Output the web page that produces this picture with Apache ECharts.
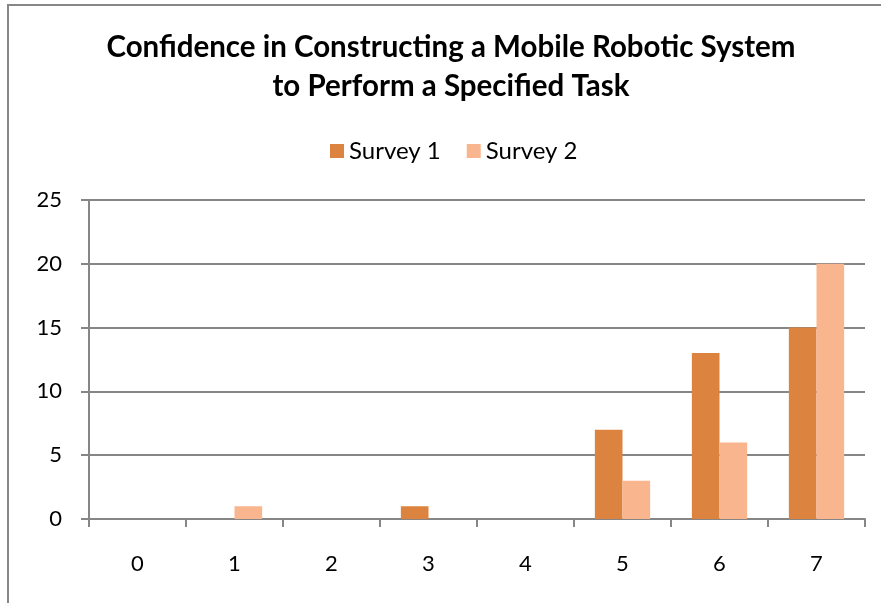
<!DOCTYPE html>
<html>
<head>
<meta charset="utf-8">
<script src="https://cdn.jsdelivr.net/npm/echarts@6/dist/echarts.min.js"></script>
<style>
  html, body { margin: 0; padding: 0; background: #fff; }
  #chart { position: absolute; left: 0; top: 0; width: 881px; height: 603px; }
  #frame { position: absolute; left: 7px; top: 4px; width: 900px; height: 640px;
           border: 2px solid #878787; pointer-events: none; }
</style>
</head>
<body>
<div id="chart"></div>
<div id="frame"></div>
<script>
const categories = ['0', '1', '2', '3', '4', '5', '6', '7']
const survey1 = [0, 0, 0, 1, 0, 7, 13, 15]
const survey2 = [0, 1, 0, 0, 0, 3, 6, 20]

const font = 'Lato, "Open Sans", sans-serif'
const chart = echarts.init(document.getElementById('chart'), null, { renderer: 'canvas' })

chart.setOption({
  backgroundColor: '#fff',
  animation: false,
  title: {
    text: 'Confidence in Constructing a Mobile Robotic System\nto Perform a Specified Task',
    left: 446,
    top: 23,
    textAlign: 'center',
    textStyle: {
      fontFamily: font,
      fontWeight: 'bold',
      fontSize: 29.5,
      lineHeight: 39,
      color: '#000'
    }
  },
  legend: {
    data: ['Survey 1', 'Survey 2'],
    top: 134,
    left: 325,
    itemWidth: 14,
    itemHeight: 14,
    itemGap: 26,
    icon: 'rect',
    textStyle: { fontFamily: font, fontSize: 24, color: '#000' }
  },
  grid: {
    left: 89,
    right: 16,
    top: 200,
    bottom: 84
  },
  xAxis: {
    type: 'category',
    data: categories,
    axisLine: { lineStyle: { color: '#868686', width: 2 } },
    axisTick: { show: true, length: 8, lineStyle: { color: '#868686', width: 2 } },
    axisLabel: { fontFamily: font, fontSize: 22, color: '#000', margin: 34 }
  },
  yAxis: {
    type: 'value',
    min: 0,
    max: 25,
    interval: 5,
    axisLine: { show: true, lineStyle: { color: '#868686', width: 2 } },
    axisTick: { show: true, length: 8, lineStyle: { color: '#868686', width: 2 } },
    axisLabel: { fontFamily: font, fontSize: 22, color: '#000', margin: 27 },
    splitLine: { show: true, lineStyle: { color: '#868686', width: 2 } }
  },
  series: [
    {
      name: 'Survey 1',
      type: 'bar',
      data: survey1,
      barGap: '0%',
      barCategoryGap: '43%',
      itemStyle: { color: '#DC843F' }
    },
    {
      name: 'Survey 2',
      type: 'bar',
      data: survey2,
      itemStyle: { color: '#F9B58D' }
    }
  ]
})
</script>
</body>
</html>
